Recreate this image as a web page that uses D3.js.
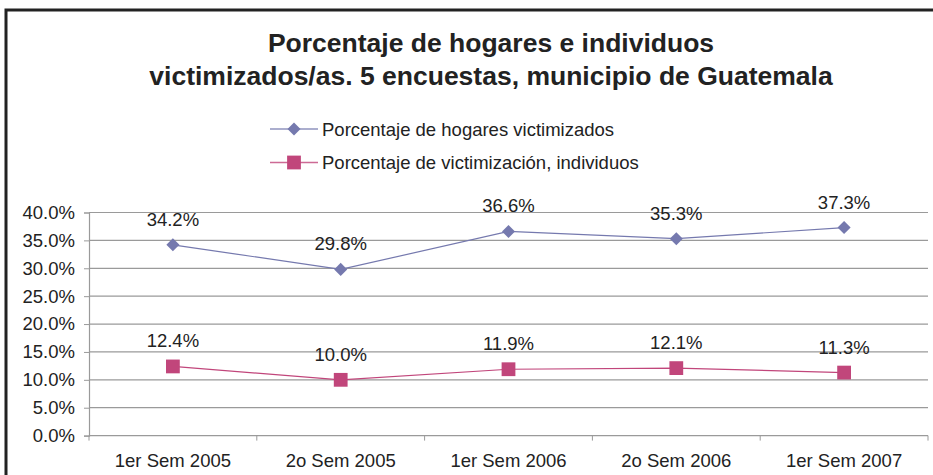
<!DOCTYPE html>
<html>
<head>
<meta charset="utf-8">
<script src="https://cdn.jsdelivr.net/npm/d3@7"></script>
<style>
  html, body { margin: 0; padding: 0; background: #fff; }
  text { font-family: "Liberation Sans", Arial, sans-serif; fill: #222; }
</style>
</head>
<body>
<svg id="chart" width="933" height="475"></svg>
<script>
// chart data
var categories = ['1er Sem 2005', '2o Sem 2005', '1er Sem 2006', '2o Sem 2006', '1er Sem 2007'];
var hogares = [34.2, 29.8, 36.6, 35.3, 37.3];
var individuos = [12.4, 10.0, 11.9, 12.1, 11.3];
var yTicks = [0, 5, 10, 15, 20, 25, 30, 35, 40];
var seriesNames = ['Porcentaje de hogares victimizados', 'Porcentaje de victimización, individuos'];
var titleLines = ['Porcentaje de hogares e individuos', 'victimizados/as. 5 encuestas, municipio de Guatemala'];

var blue = '#7579ae';
var pink = '#c1467b';
var fontSize = '18.5px';

var svg = d3.select('#chart');

// outer frame (only top and left edges visible in the crop)
svg.append('path')
    .attr('d', 'M6,480 L6,10 L940,10')
    .attr('fill', 'none')
    .attr('stroke', '#222')
    .attr('stroke-width', 3);

// title
svg.selectAll('.title')
    .data(titleLines)
    .enter().append('text')
    .attr('class', 'title')
    .attr('x', 491)
    .attr('y', function (d, i) { return 52 + i * 32.5; })
    .attr('text-anchor', 'middle')
    .style('font-size', '26.5px')
    .style('font-weight', 'bold')
    .text(function (d) { return d; });

var margin = {left: 89, right: 928, top: 212.5, bottom: 435.6};

var x = d3.scaleBand()
    .domain(categories)
    .range([margin.left, margin.right]);

var y = d3.scaleLinear()
    .domain([0, 40])
    .range([margin.bottom, margin.top]);

// horizontal grid
svg.append('g')
    .selectAll('line')
    .data(yTicks.slice(1))
    .enter().append('line')
    .attr('x1', margin.left)
    .attr('x2', margin.right)
    .attr('y1', function (d) { return y(d); })
    .attr('y2', function (d) { return y(d); })
    .attr('stroke', '#9a9a9a')
    .attr('stroke-width', 1.2);

// y axis
var yAxis = d3.axisLeft(y)
    .tickValues(yTicks)
    .tickSize(5)
    .tickPadding(9)
    .tickFormat(function (d) { return d3.format('.1f')(d) + '%'; });

var gy = svg.append('g')
    .attr('transform', 'translate(' + margin.left + ',0)')
    .call(yAxis);
gy.select('.domain').attr('stroke', '#9a9a9a').attr('stroke-width', 1.2);
gy.selectAll('.tick line').attr('stroke', '#9a9a9a');
gy.selectAll('.tick text')
    .style('font-size', fontSize)
    .style('font-family', '"Liberation Sans", Arial, sans-serif')
    .attr('fill', '#222');

// x axis: ticks at band boundaries, labels centered
var gx = svg.append('g')
    .attr('transform', 'translate(0,' + margin.bottom + ')');
gx.append('line')
    .attr('x1', margin.left)
    .attr('x2', margin.right)
    .attr('stroke', '#9a9a9a')
    .attr('stroke-width', 1.2);
var bounds = categories.map(function (c) { return x(c); }).concat([margin.right]);
gx.selectAll('.xtick')
    .data(bounds)
    .enter().append('line')
    .attr('x1', function (d) { return d; })
    .attr('x2', function (d) { return d; })
    .attr('y1', 0)
    .attr('y2', 5)
    .attr('stroke', '#9a9a9a');
gx.selectAll('.xlabel')
    .data(categories)
    .enter().append('text')
    .attr('x', function (d) { return x(d) + x.bandwidth() / 2; })
    .attr('y', 31)
    .attr('text-anchor', 'middle')
    .style('font-size', fontSize)
    .text(function (d) { return d; });

var cx = function (d, i) { return x(categories[i]) + x.bandwidth() / 2; };
var line = d3.line()
    .x(function (d, i) { return cx(d, i); })
    .y(function (d) { return y(d); });

// square symbol, rotated 45deg for the diamond
var series = [
    {values: hogares, color: blue, rotate: 45, size: 85},
    {values: individuos, color: pink, rotate: 0, size: 190}
];

var marker = function (s) {
    return d3.symbol().type(d3.symbolSquare).size(s.size)();
};

series.forEach(function (s) {
    svg.append('path')
        .datum(s.values)
        .attr('d', line)
        .attr('fill', 'none')
        .attr('stroke', s.color)
        .attr('stroke-width', 1.2);

    svg.append('g')
        .selectAll('path')
        .data(s.values)
        .enter().append('path')
        .attr('transform', function (d, i) {
            return 'translate(' + cx(d, i) + ',' + y(d) + ') rotate(' + s.rotate + ')';
        })
        .attr('d', marker(s))
        .attr('fill', s.color);

    svg.append('g')
        .selectAll('text')
        .data(s.values)
        .enter().append('text')
        .attr('x', function (d, i) { return cx(d, i); })
        .attr('y', function (d) { return y(d) - 19; })
        .attr('text-anchor', 'middle')
        .style('font-size', fontSize)
        .text(function (d) { return d3.format('.1f')(d) + '%'; });
});

// legend
var legend = svg.append('g');
series.forEach(function (s, i) {
    var ly = 129 + i * 33.5;
    legend.append('line')
        .attr('x1', 270).attr('x2', 318)
        .attr('y1', ly).attr('y2', ly)
        .attr('stroke', s.color)
        .attr('stroke-width', 1.5)
        .attr('opacity', 0.8);
    legend.append('path')
        .attr('transform', 'translate(294,' + ly + ') rotate(' + s.rotate + ')')
        .attr('d', marker(s))
        .attr('fill', s.color);
    legend.append('text')
        .attr('x', 322)
        .attr('y', ly + 6.5)
        .style('font-size', fontSize)
        .text(seriesNames[i]);
});
</script>
</body>
</html>
